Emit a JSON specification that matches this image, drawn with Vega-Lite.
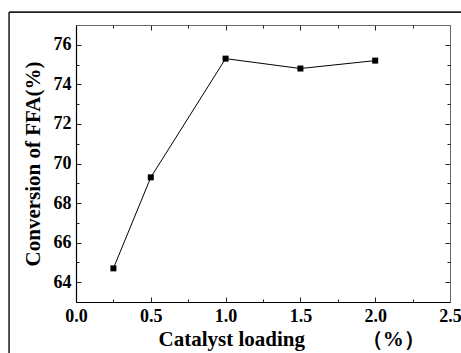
{
  "$schema": "https://vega.github.io/schema/vega-lite/v6.json",
  "width": 374,
  "height": 277,
  "autosize": {"type": "none"},
  "padding": {"left": 76, "top": 25, "right": 11, "bottom": 51},
  "background": "white",
  "data": {"values": [
    {"loading": 0.25, "conversion": 64.7},
    {"loading": 0.5, "conversion": 69.3},
    {"loading": 1.0, "conversion": 75.3},
    {"loading": 1.5, "conversion": 74.8},
    {"loading": 2.0, "conversion": 75.2}
  ]},
  "config": {
    "view": {"stroke": null},
    "axis": {
      "grid": false,
      "labelFont": "Liberation Serif",
      "labelFontWeight": "bold",
      "labelFontSize": 18,
      "labelColor": "black",
      "labelFlush": false,
      "labelOverlap": false,
      "titleFont": "Liberation Serif",
      "titleFontWeight": "bold",
      "titleFontSize": 21,
      "titleColor": "black",
      "tickColor": "#222",
      "tickWidth": 1,
      "domainColor": "black",
      "domainWidth": 1.2
    }
  },
  "resolve": {"axis": {"x": "independent", "y": "independent"}},
  "layer": [
    {
      "mark": {"type": "line", "color": "black", "strokeWidth": 1},
      "encoding": {
        "x": {"field": "loading", "type": "quantitative",
          "scale": {"domain": [0, 2.5], "nice": false, "zero": false},
          "axis": {"orient": "bottom", "values": [0, 0.5, 1, 1.5, 2, 2.5], "format": ".1f", "tickSize": -5, "labelPadding": 10,
            "title": "Catalyst loading\u2003\u2003\u2002\u2009（%）", "titleAnchor": "start", "titleAlign": "left", "titleX": 82, "titlePadding": 3}},
        "y": {"field": "conversion", "type": "quantitative",
          "scale": {"domain": [63, 77], "nice": false, "zero": false},
          "axis": {"orient": "left", "values": [64, 66, 68, 70, 72, 74, 76], "tickSize": -5, "labelPadding": 10,
            "title": "Conversion of FFA(%)", "titlePadding": 10}}
      }
    },
    {
      "mark": {"type": "point", "shape": "square", "filled": true, "color": "black", "size": 36, "opacity": 1},
      "encoding": {
        "x": {"field": "loading", "type": "quantitative",
          "scale": {"domain": [0, 2.5], "nice": false, "zero": false},
          "axis": {"orient": "bottom", "values": [0.25, 0.75, 1.25, 1.75, 2.25], "labels": false, "domain": false, "tickSize": -3, "title": null}},
        "y": {"field": "conversion", "type": "quantitative",
          "scale": {"domain": [63, 77], "nice": false, "zero": false},
          "axis": {"orient": "left", "values": [65, 67, 69, 71, 73, 75], "labels": false, "domain": false, "tickSize": -3, "title": null}}
      }
    },
    {
      "mark": {"type": "line", "opacity": 0},
      "encoding": {
        "x": {"field": "loading", "type": "quantitative",
          "scale": {"domain": [0, 2.5], "nice": false, "zero": false},
          "axis": {"orient": "top", "values": [0, 0.5, 1, 1.5, 2, 2.5], "labels": false, "domainColor": "#666", "domainWidth": 1, "tickSize": -5, "title": null}},
        "y": {"field": "conversion", "type": "quantitative",
          "scale": {"domain": [63, 77], "nice": false, "zero": false},
          "axis": {"orient": "right", "values": [64, 66, 68, 70, 72, 74, 76], "labels": false, "domainColor": "#666", "domainWidth": 1, "tickSize": -5, "title": null}}
      }
    },
    {
      "mark": {"type": "line", "opacity": 0},
      "encoding": {
        "x": {"field": "loading", "type": "quantitative",
          "scale": {"domain": [0, 2.5], "nice": false, "zero": false},
          "axis": {"orient": "top", "values": [0.25, 0.75, 1.25, 1.75, 2.25], "labels": false, "domain": false, "tickSize": -3, "title": null}},
        "y": {"field": "conversion", "type": "quantitative",
          "scale": {"domain": [63, 77], "nice": false, "zero": false},
          "axis": {"orient": "right", "values": [65, 67, 69, 71, 73, 75], "labels": false, "domain": false, "tickSize": -3, "title": null}}
      }
    },
    {
      "mark": {"type": "rule", "color": "#444", "strokeWidth": 1.2, "clip": false},
      "encoding": {
        "x": {"datum": -0.446, "type": "quantitative", "axis": null},
        "y": {"datum": 77.64, "type": "quantitative", "axis": null},
        "y2": {"datum": 60}
      }
    },
    {
      "mark": {"type": "rule", "color": "#222", "strokeWidth": 1.2, "clip": false},
      "encoding": {
        "x": {"datum": -0.446, "type": "quantitative", "axis": null},
        "x2": {"datum": 2.7},
        "y": {"datum": 77.64, "type": "quantitative", "axis": null}
      }
    }
  ]
}
